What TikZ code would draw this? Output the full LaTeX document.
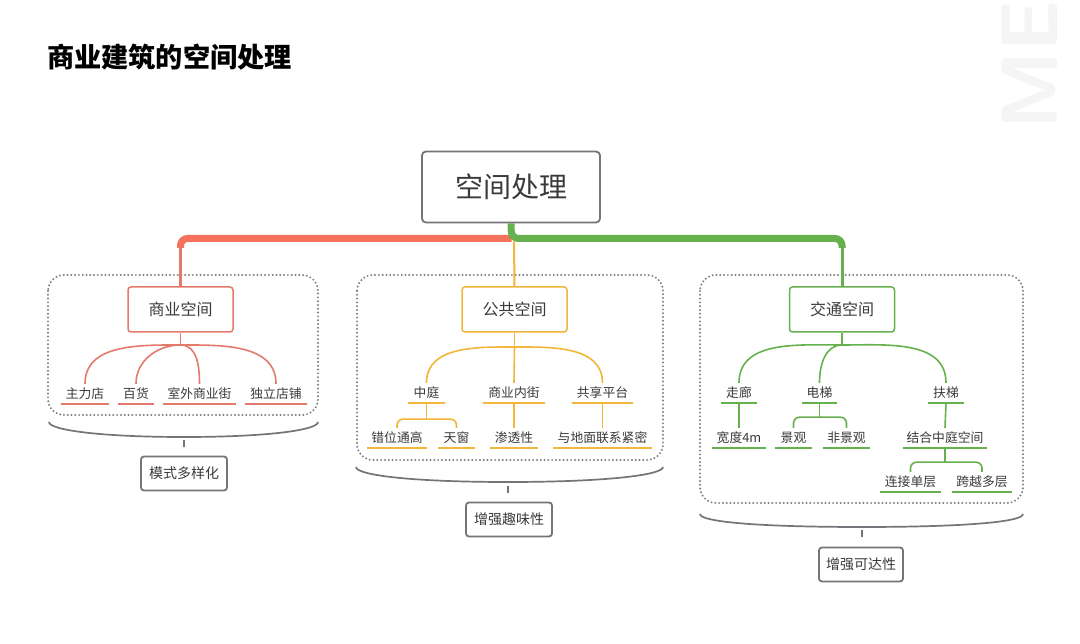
\documentclass[tikz,border=0pt]{standalone}
\usepackage{fontspec}
\setmainfont{Noto Sans CJK SC}
\usetikzlibrary{calc}
\definecolor{cbar}{HTML}{F4735A}
\definecolor{cred}{HTML}{E47A6C}
\definecolor{cyel}{HTML}{F2B63A}
\definecolor{cgrn}{HTML}{66B04E}
\definecolor{ctxt}{HTML}{3A3A3A}
\definecolor{cdot}{HTML}{7E7E7E}
\definecolor{cbox}{HTML}{74747A}
\tikzset{
  rootbox/.style={draw=cbox, line width=1.8pt, rounded corners=4pt, fill=white,
    minimum width=178pt, minimum height=71pt, inner sep=0pt, font=\fontsize{28}{30}\selectfont},
  lvl/.style={line width=1.5pt, rounded corners=3pt, fill=white,
    minimum width=105pt, minimum height=45pt, inner sep=0pt, font=\fontsize{16}{18}\selectfont},
  leaf/.style={minimum height=20pt, inner sep=0pt, font=\fontsize{12.8}{14}\selectfont},
  sumbox/.style={draw=cbox, line width=1.8pt, rounded corners=3pt, fill=white,
    minimum height=34pt, inner sep=0pt, font=\fontsize{14}{16}\selectfont},
  grp/.style={draw=cdot, line width=2.2pt, dash pattern=on 0pt off 3.8pt, line cap=round, rounded corners=16pt},
  brace/.style={draw=cbox, line width=1.7pt},
  rline/.style={draw=cred, line width=1.6pt},
  yline/.style={draw=cyel, line width=1.6pt},
  gline/.style={draw=cgrn, line width=1.6pt},
}
\begin{document}
\begin{tikzpicture}[x=1pt,y=-1pt, text=ctxt]
\useasboundingbox (0,0) rectangle (1080,644);
\fill[white] (0,0) rectangle (1080,644);

% faint watermark
\node[rotate=90, anchor=south east, text=black!4, font=\fontsize{80}{80}\selectfont\sffamily\bfseries, inner sep=0pt] (wm) at (1058,0) {ME};

% title
\node[anchor=west, inner sep=0pt, text=black, font=\fontsize{27.2}{29}\selectfont\bfseries] (title) at (47,57) {商业建筑的空间处理};

% group boxes
\draw[grp] (48,275) rectangle (318,415);
\draw[grp] (357,275) rectangle (663,460);
\draw[grp] (700,275) rectangle (1023,503);

% root and level one
\node[rootbox] (root) at (511,187) {空间处理};
\node[lvl, draw=cred] (sy) at (180.5,309.5) {商业空间};
\node[lvl, draw=cyel] (gg) at (514.5,309.5) {公共空间};
\node[lvl, draw=cgrn] (jt) at (842,309.5) {交通空间};

\coordinate (jn) at (511.5,238.5);
\coordinate (rc) at (180.5,248);
\coordinate (gc) at (842,248);
\draw[cbar, line width=7pt, rounded corners=7pt] (jn) -| (rc);
\draw[cred, line width=2.2pt] (rc) -- (sy.north);
\draw[cgrn, line width=7pt, rounded corners=7pt] (root.south) -- (jn) -| (gc);
\draw[cgrn, line width=3pt] (gc) -- (jt.north);
\draw[cyel, line width=2pt] ($(jn)+(2.5,3)$) -- (gg.north);

% ---------- left group ----------
\coordinate (hL) at (180.5,345);
\draw[rline] (sy.south) -- (hL);
\node[leaf, minimum width=48pt] (zld) at (85,394) {主力店};
\node[leaf, minimum width=36pt] (bh) at (136,394) {百货};
\node[leaf, minimum width=73pt] (swsyj) at (199.5,394) {室外商业街};
\node[leaf, minimum width=62pt] (dldp) at (276,394) {独立店铺};
\foreach \n in {zld,bh,swsyj,dldp}{\draw[rline] (\n.south west) -- (\n.south east);}
\draw[rline] (hL) to[out=180,in=90] (zld.north);
\draw[rline] (hL) to[out=180,in=90] (bh.north);
\draw[rline] (hL) to[out=0,in=90] (swsyj.north);
\draw[rline] (hL) to[out=0,in=90] (dldp.north);

% ---------- middle group ----------
\coordinate (hM) at (514.5,347);
\draw[yline] (gg.south) -- (hM);
\node[leaf, minimum width=37pt] (zt) at (426.5,393) {中庭};
\node[leaf, minimum width=61pt] (synj) at (514,393) {商业内街};
\node[leaf, minimum width=61pt] (gxpt) at (602.5,393) {共享平台};
\node[leaf, minimum width=60pt] (cwtg) at (397,438) {错位通高};
\node[leaf, minimum width=37pt] (tc) at (456.5,438) {天窗};
\node[leaf, minimum width=48pt] (stx) at (514,438) {渗透性};
\node[leaf, minimum width=99pt] (ydm) at (602.5,438) {与地面联系紧密};
\foreach \n in {zt,synj,gxpt,cwtg,tc,stx,ydm}{\draw[yline] (\n.south west) -- (\n.south east);}
\draw[yline] (hM) to[out=180,in=90] (zt.north);
\draw[yline] (hM) -- (synj.north);
\draw[yline] (hM) to[out=0,in=90] (gxpt.north);
\draw[yline] (zt.south) -- ++(0,16);
\draw[yline, rounded corners=6pt] (cwtg.north) |- ($(zt.south)+(0,16)$) -| (tc.north);
\draw[yline] (synj.south) -- (stx.north);
\draw[yline] (gxpt.south) -- (ydm.north);

% ---------- right group ----------
\coordinate (hR) at (842,345);
\draw[gline] (jt.south) -- (hR);
\node[leaf, minimum width=36pt] (zl) at (739,393) {走廊};
\node[leaf, minimum width=35pt] (dt) at (819.5,393) {电梯};
\node[leaf, minimum width=36pt] (ft) at (946,393) {扶梯};
\node[leaf, minimum width=54pt] (kd) at (739,438) {宽度4m};
\node[leaf, minimum width=37pt] (jg) at (793.5,438) {景观};
\node[leaf, minimum width=47pt] (fjg) at (846.5,438) {非景观};
\node[leaf, minimum width=84pt] (jhzt) at (945,438) {结合中庭空间};
\node[leaf, minimum width=61pt] (ljdc) at (910.5,482) {连接单层};
\node[leaf, minimum width=60pt] (kydc) at (982,482) {跨越多层};
\foreach \n in {zl,dt,ft,kd,jg,fjg,jhzt,ljdc,kydc}{\draw[gline] (\n.south west) -- (\n.south east);}
\draw[gline] (hR) to[out=180,in=90] (zl.north);
\draw[gline] (hR) to[out=180,in=90] (dt.north);
\draw[gline] (hR) to[out=0,in=90] (ft.north);
\draw[gline] (zl.south) -- (kd.north);
\draw[gline] (dt.south) -- ++(0,14);
\draw[gline, rounded corners=6pt] (jg.north) |- ($(dt.south)+(0,14)$) -| (fjg.north);
\draw[gline] (ft.south) -- (jhzt.north);
\draw[gline] (jhzt.south) -- ++(0,14);
\draw[gline, rounded corners=6pt] (ljdc.north) |- ($(jhzt.south)+(0,14)$) -| (kydc.north);

% ---------- braces and summaries ----------
\draw[brace] (49,422) .. controls (49,430) and (100,437) .. (184,437) .. controls (268,437) and (318,430) .. (318,422);
\coordinate (tL) at (184,440);
\node[sumbox, minimum width=86pt] (msd) at (184,473.5) {模式多样化};
\draw[brace] (tL) -- ++(0,7);

\draw[brace] (356,467) .. controls (356,475) and (410,482) .. (508,482) .. controls (606,482) and (663,475) .. (663,467);
\coordinate (tM) at (508,486);
\node[sumbox, minimum width=86pt] (zqq) at (509,519.5) {增强趣味性};
\draw[brace] (tM) -- ++(0,7);

\draw[brace] (700,514) .. controls (700,522) and (760,527) .. (862,527) .. controls (964,527) and (1023,522) .. (1023,514);
\coordinate (tR) at (862,530);
\node[sumbox, minimum width=84pt] (zqk) at (861,564.5) {增强可达性};
\draw[brace] (tR) -- ++(0,7);
\end{tikzpicture}
\end{document}
